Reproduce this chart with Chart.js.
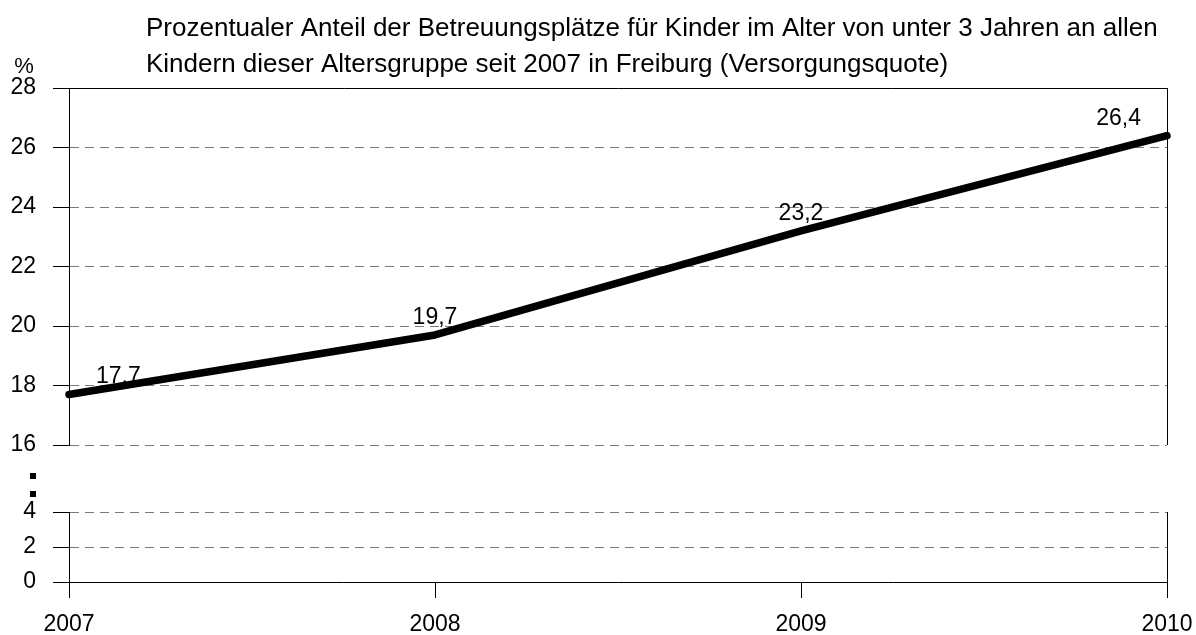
<!DOCTYPE html>
<html lang="de">
<head>
<meta charset="utf-8">
<title>Versorgungsquote U3 Freiburg</title>
<script src="https://cdn.jsdelivr.net/npm/chart.js@4.4.1/dist/chart.umd.min.js"></script>
<style>
  html, body { margin: 0; padding: 0; background: #fff; }
  #wrap { position: relative; width: 1196px; height: 635px; }
</style>
</head>
<body>
<div id="wrap"><canvas id="chartCanvas"></canvas></div>
<script>
// Versorgungsquote (Betreuungsplätze U3 je 100 Kinder), Freiburg
const years = ["2007", "2008", "2009", "2010"];
const quota = [17.7, 19.7, 23.2, 26.4];

// Ticks of the two axis segments (the axis is broken between 4 and 16)
const upperTicks = [16, 18, 20, 22, 24, 26, 28];
const lowerTicks = [0, 2, 4];

const titleLines = [
  "Prozentualer Anteil der Betreuungsplätze für Kinder im Alter von unter 3 Jahren an allen",
  "Kindern dieser Altersgruppe seit 2007 in Freiburg (Versorgungsquote)",
];
const unitLabel = "%";

const FONT = "'Liberation Sans', Arial, sans-serif";
const GRID_GRAY = "#7a7a7a";
const DASH = [9, 6];

Chart.defaults.font.family = FONT;
Chart.defaults.color = "#000";

const fmt = (v) => String(v).replace(".", ",");
const align = (v) => Math.round(v - 0.5) + 0.5;

// Title, unit label and the break marks between the two axis segments
const decorPlugin = {
  id: "decor",
  afterDraw(chart) {
    const { ctx } = chart;
    const up = chart.scales.yUpper;
    ctx.save();
    ctx.fillStyle = "#000";
    ctx.textBaseline = "alphabetic";
    ctx.textAlign = "left";
    ctx.font = `26px ${FONT}`;
    titleLines.forEach((line, i) => ctx.fillText(line, 146, 36 + i * 36));

    ctx.textAlign = "center";
    ctx.font = `22px ${FONT}`;
    ctx.fillText(unitLabel, 24, 73);

    const gapTop = up.bottom;
    ctx.fillRect(30, gapTop + 28, 6, 6);
    ctx.fillRect(30, gapTop + 46, 6, 6);
    ctx.restore();
  },
};

// Right-hand frame lines of both plot segments
const framePlugin = {
  id: "frame",
  beforeDatasetsDraw(chart) {
    const { ctx, chartArea } = chart;
    const x = align(chartArea.right);
    ctx.save();
    ctx.strokeStyle = "#000";
    ctx.lineWidth = 1;
    ctx.beginPath();
    for (const id of ["yUpper", "yLower"]) {
      const s = chart.scales[id];
      ctx.moveTo(x, s.top);
      ctx.lineTo(x, s.bottom);
    }
    ctx.stroke();
    ctx.restore();
  },
};

// Value labels above the line points
const valueLabels = {
  id: "valueLabels",
  afterDatasetsDraw(chart) {
    const { ctx } = chart;
    const points = chart.getDatasetMeta(0).data;
    const last = points.length - 1;
    ctx.save();
    ctx.font = `23px ${FONT}`;
    ctx.fillStyle = "#000";
    ctx.textBaseline = "alphabetic";
    points.forEach((pt, i) => {
      let x = pt.x;
      ctx.textAlign = "center";
      if (i === 0) {
        x += 27;
        ctx.textAlign = "left";
      } else if (i === last) {
        x -= 26;
        ctx.textAlign = "right";
      }
      ctx.fillText(fmt(quota[i]), x, pt.y - 11);
    });
    ctx.restore();
  },
};

const yAxis = (ticks, weight, order) => ({
  type: "linear",
  position: "left",
  stack: "quote",
  stackWeight: weight,
  weight: order,
  min: ticks[0],
  max: ticks[ticks.length - 1],
  afterFit: (scale) => { scale.width = 69; },
  ticks: {
    stepSize: ticks[1] - ticks[0],
    autoSkip: false,
    padding: 17,
    font: { size: 23 },
    color: "#000",
  },
  grid: {
    color: (c) => {
      const v = c.tick && c.tick.value;
      if (v === upperTicks[upperTicks.length - 1]) return "#000";
      if (v === 0) return "rgba(0,0,0,0)";
      return GRID_GRAY;
    },
    lineWidth: 1,
    tickLength: 16,
    tickColor: "#000",
  },
  border: {
    display: true,
    color: "#000",
    width: 1,
    dash: (c) => (c.tick && c.tick.value === upperTicks[upperTicks.length - 1] ? [] : DASH),
  },
});

new Chart(document.getElementById("chartCanvas"), {
  type: "line",
  data: {
    labels: years,
    datasets: [
      {
        label: "Versorgungsquote",
        data: quota,
        xAxisID: "x",
        yAxisID: "yUpper",
        borderColor: "#000",
        borderWidth: 7.5,
        borderCapStyle: "round",
        borderJoinStyle: "round",
        pointRadius: 0,
        tension: 0,
        fill: false,
        clip: false,
      },
    ],
  },
  options: {
    responsive: true,
    maintainAspectRatio: false,
    animation: false,
    events: [],
    layout: { padding: { top: 88, right: 29, bottom: 0, left: 0 } },
    plugins: {
      legend: { display: false },
      title: { display: false },
      tooltip: { enabled: false },
    },
    scales: {
      x: {
        type: "category",
        offset: false,
        afterFit: (scale) => {
          scale.height = 53;
          scale.paddingLeft = 0;
          scale.paddingRight = 0;
        },
        ticks: {
          padding: 13,
          font: { size: 23 },
          color: "#000",
          maxRotation: 0,
          autoSkip: false,
        },
        grid: {
          drawOnChartArea: false,
          tickLength: 16,
          tickColor: "#000",
          color: "#000",
        },
        border: { display: true, color: "#000", width: 1 },
      },
      yUpper: yAxis(upperTicks, 357, 3),
      yGap: {
        type: "linear",
        position: "left",
        stack: "quote",
        stackWeight: 67,
        weight: 2,
        display: false,
      },
      yLower: yAxis(lowerTicks, 70, 1),
    },
  },
  plugins: [framePlugin, valueLabels, decorPlugin],
});
</script>
</body>
</html>
